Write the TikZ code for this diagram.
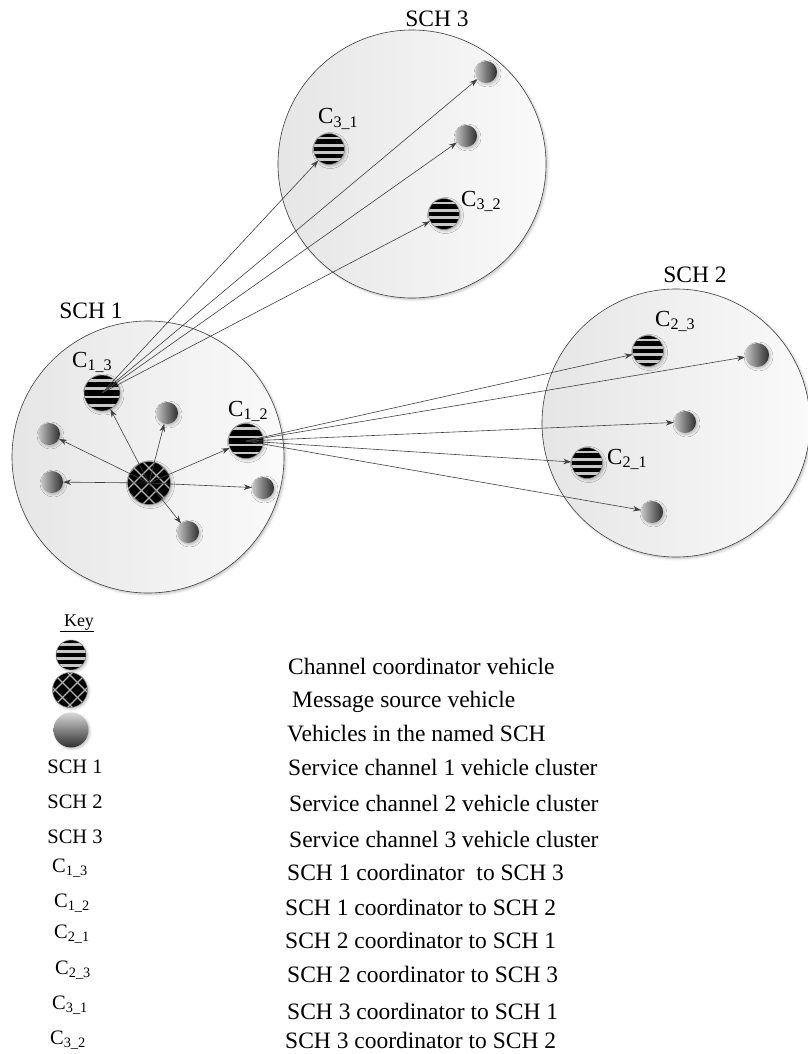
\documentclass[tikz,border=0pt]{standalone}
\usepackage{fontspec}
\setmainfont{Liberation Serif}
\usepackage{tikz}
\usetikzlibrary{calc,arrows.meta,shadows.blur}

\tikzset{
  soft/.style={blur shadow={shadow xshift=1.5pt, shadow yshift=-1.5pt,
      shadow blur radius=2.5pt, shadow opacity=25}},
  cluster/.style={circle, draw=black!75, line width=0.6pt, inner sep=0pt,
    left color=black!10, right color=black!2, soft},
  vehicle/.style={circle, draw=none, inner sep=0pt, minimum size=22pt,
    left color=black!22, right color=black!82, soft},
  coord/.style={circle, draw=black!45, line width=0.5pt, fill=black,
    inner sep=0pt, minimum size=31pt, soft,
    path picture={
      \foreach \k in {0.16,0.39,0.62,0.85}
        \draw[black!22, line width=2.6pt]
          ($(path picture bounding box.south west)!\k!(path picture bounding box.north west)$) --
          ($(path picture bounding box.south east)!\k!(path picture bounding box.north east)$);
    }},
  source/.style={circle, draw=black!45, line width=0.5pt, fill=black,
    inner sep=0pt, minimum size=43pt, soft,
    path picture={
      \foreach \k in {-30pt,-15pt,0pt,15pt,30pt}{
        \draw[black!30, line width=1.4pt]
          ([shift={(\k-30pt,-30pt)}]path picture bounding box.center) -- ++(60pt,60pt);
        \draw[black!30, line width=1.4pt]
          ([shift={(\k-30pt,30pt)}]path picture bounding box.center) -- ++(60pt,-60pt);
      }
    }},
  msg/.style={draw=black!75, line width=0.6pt, -{Stealth[length=8pt,width=5.5pt]}},
  grplbl/.style={font=\fontsize{23.5}{26}\selectfont, inner sep=0pt, anchor=base},
  clbl/.style={font=\fontsize{23}{26}\selectfont, inner sep=0pt, anchor=base west},
  keysym/.style={font=\fontsize{20.5}{24}\selectfont, inner sep=0pt, anchor=base},
  keytxt/.style={font=\fontsize{23.5}{26}\selectfont, inner sep=0pt, anchor=base west}
}

\begin{document}
\begin{tikzpicture}[x=1pt, y=-1pt, line join=round]
  \useasboundingbox (0,0) rectangle (807,1054);

  % clusters
  \node[cluster, minimum size=272pt] (sch1) at (148,457) {};
  \node[cluster, minimum size=268pt] (sch3) at (412,164) {};
  \node[cluster, minimum size=268pt] (sch2) at (676,423) {};
  \node[grplbl] (sch1lbl) at (91,318) {SCH 1};
  \node[grplbl] (sch3lbl) at (437,27) {SCH 3};
  \node[grplbl] (sch2lbl) at (695,282) {SCH 2};

  % SCH 1
  \node[coord, minimum size=36pt] (c13) at (102,393) {};
  \node[coord, minimum size=35pt] (c12) at (246,441) {};
  \node[source] (src) at (149,483) {};
  \node[vehicle] (g11) at (167,413) {};
  \node[vehicle] (g12) at (49,434) {};
  \node[vehicle] (g13) at (52,482) {};
  \node[vehicle] (g14) at (263,488) {};
  \node[vehicle] (g15) at (188,532) {};
  \node[clbl] (c13lbl) at (72,367) {C\textsubscript{1\_3}};
  \node[clbl] (c12lbl) at (228,416) {C\textsubscript{1\_2}};

  % SCH 3
  \node[coord] (c31) at (329,149) {};
  \node[coord] (c32) at (444,214) {};
  \node[vehicle] (g31) at (486,72) {};
  \node[vehicle] (g32) at (466,136) {};
  \node[clbl] (c31lbl) at (318,124) {C\textsubscript{3\_1}};
  \node[clbl] (c32lbl) at (461,206) {C\textsubscript{3\_2}};

  % SCH 2
  \node[coord] (c23) at (648,351) {};
  \node[coord] (c21) at (587,463) {};
  \node[vehicle, minimum size=24pt] (g21) at (757,355) {};
  \node[vehicle] (g22) at (685,422) {};
  \node[vehicle] (g23) at (652,512) {};
  \node[clbl] (c23lbl) at (655,326) {C\textsubscript{2\_3}};
  \node[clbl] (c21lbl) at (607,464) {C\textsubscript{2\_1}};

  % messages
  \foreach \t in {c13,c12,g11,g12,g13,g14,g15}
    \draw[msg] (src.center) -- (\t);
  \foreach \t in {c31,g31,g32,c32}
    \draw[msg] (c13.center) -- (\t);
  \foreach \t in {c23,g21,g22,c21,g23}
    \draw[msg] (c12.center) -- (\t);

  % key
  \node[font=\fontsize{18}{20}\selectfont, inner sep=0pt, anchor=base] (keylbl) at (77,626) {\underline{\hspace{4pt}Key}};
  \node[coord, minimum size=30pt] (ksym1) at (71,655) {};
  \node[source, minimum size=35pt] (ksym2) at (70,690) {};
  \node[vehicle, minimum size=35pt, top color=black!15, bottom color=black!82] (ksym3) at (71,730) {};

  \foreach \t/\x/\y [count=\i] in {
      SCH 1/75/773, SCH 2/75/808, SCH 3/75/843,
      C\textsubscript{1\_3}/70/872, C\textsubscript{1\_2}/72/907,
      C\textsubscript{2\_1}/72/938, C\textsubscript{2\_3}/73/974,
      C\textsubscript{3\_1}/70/1009, C\textsubscript{3\_2}/68/1044}
    \node[keysym] (ks\i) at (\x,\y) {\t};

  \foreach \t/\x/\y [count=\i] in {
      Channel coordinator vehicle/288/674,
      Message source vehicle/292/707,
      Vehicles in the named SCH/287/741,
      Service channel 1 vehicle cluster/288/775,
      Service channel 2 vehicle cluster/289/811,
      Service channel 3 vehicle cluster/289/847,
      SCH 1 coordinator\ \ to SCH 3/287/880,
      SCH 1 coordinator to SCH 2/285/915,
      SCH 2 coordinator to SCH 1/285/948,
      SCH 2 coordinator to SCH 3/287/982,
      SCH 3 coordinator to SCH 1/287/1019,
      SCH 3 coordinator to SCH 2/285/1048}
    \node[keytxt] (kt\i) at (\x,\y) {\t};
\end{tikzpicture}
\end{document}
